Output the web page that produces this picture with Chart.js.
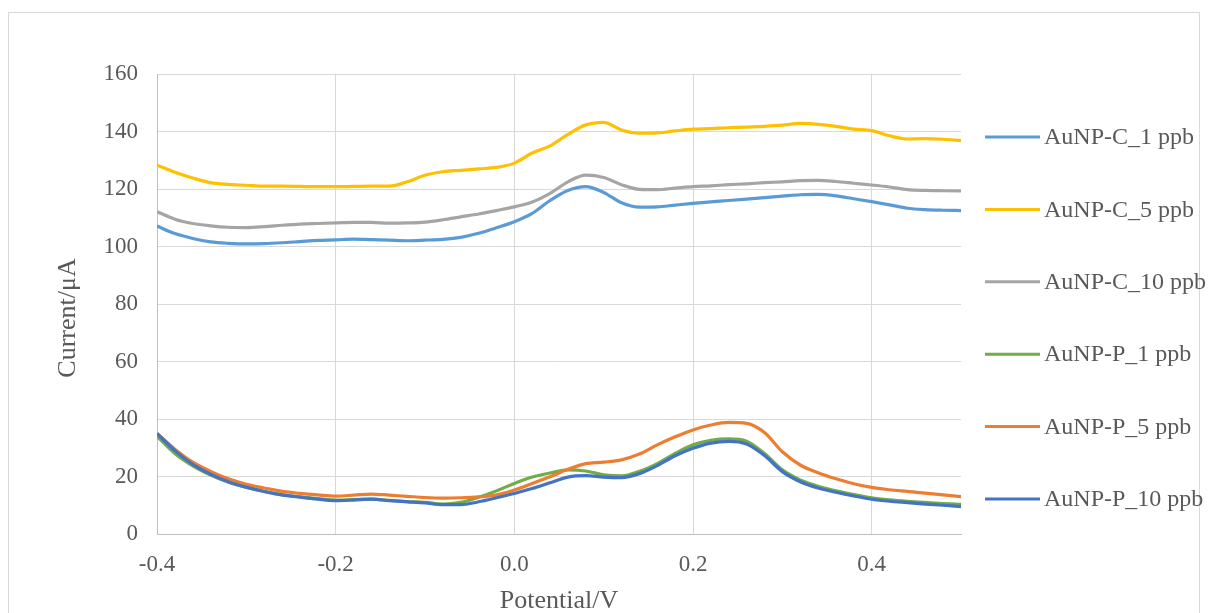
<!DOCTYPE html>
<html>
<head>
<meta charset="utf-8">
<script src="https://cdn.jsdelivr.net/npm/chart.js@4.4.1/dist/chart.umd.min.js"></script>
<style>
  html, body { margin: 0; padding: 0; background: #ffffff; }
  #wrap { position: relative; width: 1208px; height: 613px; }
</style>
</head>
<body>
<div id="wrap"><canvas id="c"></canvas></div>
<script>
// Potential (V) sample positions
const potential = [-0.40,-0.38,-0.36,-0.34,-0.32,-0.30,-0.28,-0.26,-0.24,-0.22,-0.20,-0.18,-0.16,-0.14,-0.12,-0.10,-0.08,-0.06,-0.04,-0.02,
  0.00,0.02,0.04,0.06,0.08,0.10,0.12,0.14,0.16,0.18,0.20,0.22,0.24,0.26,0.28,0.30,0.32,0.34,0.36,0.38,0.40,0.42,0.44,0.46,0.48,0.50];

const seriesLabels = ['AuNP-C_1 ppb','AuNP-C_5 ppb','AuNP-C_10 ppb','AuNP-P_1 ppb','AuNP-P_5 ppb','AuNP-P_10 ppb'];

const aunpC1 = [107.1,104.5,102.8,101.6,101.1,100.9,101.0,101.3,101.7,102.1,102.3,102.6,102.4,102.2,102.0,102.2,102.5,103.2,104.6,106.5,
  108.6,111.5,116.0,119.5,120.8,118.8,115.2,113.7,113.8,114.4,115.0,115.5,116.0,116.5,117.0,117.5,118.0,118.1,117.6,116.6,115.6,114.5,113.3,112.8,112.6,112.5];
const aunpC5 = [128.3,125.8,123.8,122.2,121.6,121.3,121.0,121.0,120.9,120.8,120.8,120.9,121.0,121.0,122.5,124.8,126.0,126.5,127.0,127.5,
  129.0,132.5,135.0,139.0,142.3,143.2,140.5,139.4,139.5,140.2,140.8,141.0,141.3,141.5,141.8,142.2,142.8,142.5,141.8,140.8,140.3,138.5,137.4,137.5,137.3,136.8];
const aunpC10 = [112.1,109.5,108.0,107.2,106.7,106.6,106.9,107.4,107.8,108.0,108.2,108.4,108.4,108.1,108.2,108.5,109.3,110.3,111.3,112.5,
  113.8,115.5,118.5,122.5,124.8,124.0,121.5,119.9,119.8,120.3,120.8,121.1,121.5,121.8,122.2,122.5,122.9,123.0,122.6,122.0,121.4,120.7,119.8,119.5,119.4,119.3];
const aunpP1 = [34.0,28.0,23.7,20.5,18.0,16.2,14.8,13.6,12.9,12.3,11.8,12.0,12.1,11.7,11.3,11.0,10.4,11.0,12.8,15.0,
  17.6,19.8,21.2,22.3,21.9,20.6,20.2,21.8,24.5,28.0,31.0,32.6,33.1,32.3,28.0,22.3,18.8,16.6,15.0,13.7,12.6,11.9,11.4,11.0,10.6,10.3];
const aunpP5 = [35.0,29.5,25.0,21.8,19.2,17.3,16.0,14.8,14.1,13.6,13.2,13.5,13.9,13.5,13.1,12.7,12.5,12.6,12.9,13.6,
  15.3,17.6,19.9,22.5,24.5,25.0,25.8,27.8,31.0,33.8,36.2,37.9,38.8,38.5,35.3,28.6,24.0,21.3,19.2,17.5,16.2,15.4,14.8,14.2,13.6,13.0];
const aunpP10 = [35.0,29.0,24.2,20.8,18.2,16.3,14.8,13.6,12.8,12.1,11.6,11.8,12.1,11.6,11.2,10.8,10.2,10.2,11.2,12.6,
  14.1,15.8,17.8,19.8,20.3,19.8,19.6,21.0,23.8,27.2,29.8,31.6,32.2,31.3,27.3,21.7,18.2,16.0,14.5,13.2,12.1,11.4,10.9,10.4,10.0,9.5];

const seriesValues = [aunpC1, aunpC5, aunpC10, aunpP1, aunpP5, aunpP10];
const seriesColors = ['#5B9BD5','#FFC000','#A5A5A5','#70AD47','#ED7D31','#4472C4'];

const xTickValues = [-0.4,-0.2,0.0,0.2,0.4];
const yTickValues = [0,20,40,60,80,100,120,140,160];
const xTitle = 'Potential/V';
const yTitle = 'Current/μA';

const FONT = '"Liberation Serif", "Times New Roman", serif';
const TEXT = '#595959';

const datasets = seriesLabels.map((label, i) => ({
  label,
  data: potential.map((x, k) => ({ x, y: seriesValues[i][k] })),
  borderColor: seriesColors[i],
  backgroundColor: seriesColors[i],
  borderWidth: 3.2,
  pointRadius: 0,
  cubicInterpolationMode: 'monotone',
  fill: false,
  order: seriesLabels.length - i
}));

const framePlugin = {
  id: 'frame',
  beforeDraw(chart) {
    const ctx = chart.ctx;
    ctx.save();
    ctx.fillStyle = '#ffffff';
    ctx.fillRect(0, 0, chart.width, chart.height);
    ctx.strokeStyle = '#d9d9d9';
    ctx.lineWidth = 1;
    ctx.strokeRect(8.5, 12.5, 1191, 640);
    ctx.restore();
  }
};

const yTitlePlugin = {
  id: 'yTitle',
  afterDraw(chart) {
    const ctx = chart.ctx;
    ctx.save();
    ctx.translate(68, 318);
    ctx.rotate(-Math.PI / 2);
    ctx.fillStyle = TEXT;
    ctx.font = '26px ' + FONT;
    ctx.textAlign = 'center';
    ctx.textBaseline = 'middle';
    ctx.fillText(yTitle, 0, 0);
    ctx.restore();
  }
};

const sideLegend = {
  id: 'sideLegend',
  afterDraw(chart) {
    const ctx = chart.ctx;
    const top = 137, step = 72.4;
    chart.data.datasets.forEach((ds, i) => {
      const y = top + i * step;
      ctx.save();
      ctx.strokeStyle = ds.borderColor;
      ctx.lineWidth = 3;
      ctx.beginPath();
      ctx.moveTo(985, y);
      ctx.lineTo(1040, y);
      ctx.stroke();
      ctx.fillStyle = TEXT;
      ctx.font = '24px ' + FONT;
      ctx.textBaseline = 'middle';
      ctx.textAlign = 'left';
      ctx.fillText(ds.label, 1044, y + 1);
      ctx.restore();
    });
  }
};

new Chart(document.getElementById('c'), {
  type: 'line',
  data: { datasets },
  plugins: [framePlugin, sideLegend, yTitlePlugin],
  options: {
    responsive: true,
    maintainAspectRatio: false,
    animation: false,
    layout: { padding: { top: 74, right: 247, bottom: 0, left: 0 } },
    plugins: { legend: { display: false }, tooltip: { enabled: false } },
    scales: {
      x: {
        type: 'linear',
        min: -0.4,
        max: 0.5,
        afterFit(s) { s.height = 79; },
        afterBuildTicks(s) { s.ticks = xTickValues.map(v => ({ value: v })); },
        ticks: {
          callback: v => Number(v).toFixed(1),
          color: TEXT,
          font: { family: FONT, size: 23 },
          padding: 17,
          maxRotation: 0
        },
        grid: { color: '#d9d9d9', lineWidth: 1, drawTicks: false },
        border: { color: '#bfbfbf', width: 1 },
        title: {
          display: true,
          text: xTitle,
          color: TEXT,
          font: { family: FONT, size: 26 },
          padding: { top: 0, bottom: -4 }
        }
      },
      y: {
        min: 0,
        max: 160,
        afterFit(s) { s.width = 157; },
        afterBuildTicks(s) { s.ticks = yTickValues.map(v => ({ value: v })); },
        ticks: {
          color: TEXT,
          font: { family: FONT, size: 23 },
          padding: 19
        },
        grid: { color: '#d9d9d9', lineWidth: 1, drawTicks: false },
        border: { color: '#bfbfbf', width: 1 },
        title: { display: false }
      }
    }
  }
});
</script>
</body>
</html>
